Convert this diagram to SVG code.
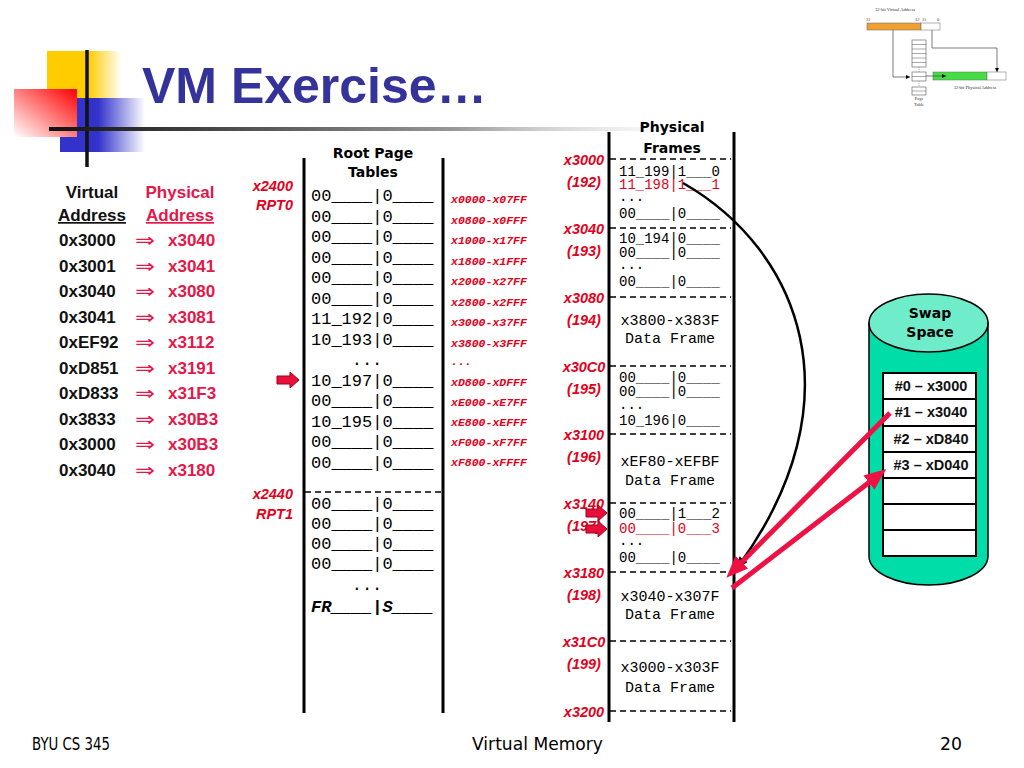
<svg xmlns="http://www.w3.org/2000/svg" width="1024" height="768" viewBox="0 0 1024 768">
<style>
.m{font-family:"Liberation Mono","Courier New",monospace}
.e{font-size:17px;fill:#000}
.f{font-size:14px;fill:#000}
.d{font-size:15px;fill:#000}
.lab{font-family:"Liberation Sans",Arial,sans-serif;font-weight:bold;font-style:italic;font-size:14.5px;fill:#E3001B}
.rng{font-family:"Liberation Mono","Courier New",monospace;font-weight:bold;font-style:italic;font-size:11.5px;fill:#E3001B}
.hd{font-family:"DejaVu Sans",sans-serif;font-weight:bold;font-size:14px;fill:#000}
.va{font-family:"Liberation Sans",Arial,sans-serif;font-weight:bold;font-size:17px;fill:#111}
.pa{font-family:"Liberation Sans",Arial,sans-serif;font-weight:bold;font-size:17px;fill:#E4174A}
.ar{font-family:"DejaVu Sans",sans-serif;font-size:20px;fill:#E4174A}
.sw{font-family:"Liberation Sans",Arial,sans-serif;font-weight:bold;font-size:14.5px;fill:#111}
.ft{font-family:"DejaVu Sans","Liberation Sans",sans-serif;font-size:18px;fill:#000}
.vl{stroke:#000;stroke-width:3;fill:none}
.dash{stroke:#000;stroke-width:1.5;stroke-dasharray:6 4;fill:none}
.blk{fill:#E8103A;stroke:#9A0018;stroke-width:1}
.tiny{font-family:"Liberation Serif",serif;font-size:4.5px;fill:#333}
</style>
<defs>
<linearGradient id="gy" x1="0" y1="0" x2="1" y2="0"><stop offset="0" stop-color="#FFCC00"/><stop offset="0.55" stop-color="#FFCC00"/><stop offset="1" stop-color="#FFCC00" stop-opacity="0"/></linearGradient>
<linearGradient id="gb" x1="0" y1="0" x2="1" y2="0"><stop offset="0" stop-color="#3333CC"/><stop offset="0.45" stop-color="#3333CC"/><stop offset="1" stop-color="#3333CC" stop-opacity="0"/></linearGradient>
<linearGradient id="gr" x1="1" y1="0" x2="0" y2="1"><stop offset="0" stop-color="#FF0000"/><stop offset="1" stop-color="#FFFFFF"/></linearGradient>
<linearGradient id="gl" x1="0" y1="0" x2="1" y2="0"><stop offset="0" stop-color="#111"/><stop offset="0.6" stop-color="#999"/><stop offset="1" stop-color="#fff" stop-opacity="0"/></linearGradient>
<marker id="ah" viewBox="0 0 12 10" refX="11" refY="5" markerWidth="12" markerHeight="10" markerUnits="userSpaceOnUse" orient="auto"><path d="M0,0 L12,5 L0,10 Z" fill="#000"/></marker>
<marker id="rh" viewBox="0 0 22 18" refX="14" refY="9" markerWidth="22" markerHeight="18" markerUnits="userSpaceOnUse" orient="auto"><path d="M0,0 L22,9 L0,18 Z" fill="#EE1144"/></marker>
<marker id="th" viewBox="0 0 4 4" refX="4" refY="2" markerWidth="4" markerHeight="4" markerUnits="userSpaceOnUse" orient="auto"><path d="M0,0 L4,2 L0,4 Z" fill="#000"/></marker>
</defs>
<rect width="1024" height="768" fill="#fff"/>

<g id="logo">
<rect x="47" y="51" width="75" height="47" fill="url(#gy)"/>
<rect x="60" y="98" width="85" height="54" fill="url(#gb)"/>
<rect x="14" y="89" width="63" height="48" fill="url(#gr)"/>
<line x1="87" y1="50" x2="87" y2="167" stroke="#111" stroke-width="3.5"/>
<rect x="49" y="127" width="680" height="4" fill="url(#gl)"/>
</g>
<text id="title" x="142" y="103" font-family="Liberation Sans,Arial,sans-serif" font-weight="bold" font-size="50" fill="#333399">VM Exercise…</text>

<g id="mini">
<text class="tiny" x="895" y="11" text-anchor="middle">32-bit Virtual Address</text>
<text class="tiny" x="866" y="21">31</text><text class="tiny" x="915" y="21">12</text><text class="tiny" x="922" y="21" fill="#33c">11</text><text class="tiny" x="937" y="21">0</text>
<rect x="867" y="23" width="54" height="7" fill="#F0A030" stroke="#666" stroke-width="0.5"/>
<rect x="921" y="23" width="19" height="7" fill="#fff" stroke="#666" stroke-width="0.5"/>
<polyline points="893,30 893,77 910,77" fill="none" stroke="#444" stroke-width="0.7" marker-end="url(#th)"/>
<polyline points="932,30 932,48 997,48 997,72" fill="none" stroke="#444" stroke-width="0.7" marker-end="url(#th)"/>
<g fill="#fff" stroke="#555" stroke-width="0.6">
<rect x="912" y="40" width="14" height="27"/>
<rect x="912" y="72" width="14" height="9"/>
<rect x="912" y="87" width="14" height="8"/>
</g>
<path d="M912,44.5H926M912,49H926M912,53.5H926M912,58H926M912,62.5H926M912,76.5H926M912,91H926" stroke="#555" stroke-width="0.5"/>
<path d="M919,67V72M919,81V87" stroke="#777" stroke-width="0.6" stroke-dasharray="1 1"/>
<rect x="933" y="72" width="54" height="8" fill="#44DD44" stroke="#666" stroke-width="0.5"/>
<rect x="987" y="72" width="19" height="8" fill="#fff" stroke="#666" stroke-width="0.5"/>
<line x1="926" y1="76" x2="946" y2="76" stroke="#444" stroke-width="0.7" marker-end="url(#th)"/>
<text class="tiny" x="975" y="89" text-anchor="middle">32-bit Physical Address</text>
<text class="tiny" x="919" y="100" text-anchor="middle">Page</text>
<text class="tiny" x="919" y="106" text-anchor="middle">Table</text>
</g>

<g id="addr-table">
<text class="va" x="92" y="198" text-anchor="middle">Virtual</text>
<text class="va" x="92" y="221" text-anchor="middle" text-decoration="underline">Address</text>
<text class="pa" x="180" y="198" text-anchor="middle">Physical</text>
<text class="pa" x="180" y="221" text-anchor="middle" text-decoration="underline">Address</text>
<g class="va">
<text x="59" y="246">0x3000</text><text x="59" y="271.5">0x3001</text><text x="59" y="297">0x3040</text><text x="59" y="322.5">0x3041</text><text x="59" y="348">0xEF92</text><text x="59" y="373.5">0xD851</text><text x="59" y="399">0xD833</text><text x="59" y="424.5">0x3833</text><text x="59" y="450">0x3000</text><text x="59" y="475.5">0x3040</text>
</g>
<g class="ar">
<text x="135" y="247" textLength="20" lengthAdjust="spacingAndGlyphs">⇒</text><text x="135" y="272.5" textLength="20" lengthAdjust="spacingAndGlyphs">⇒</text><text x="135" y="298" textLength="20" lengthAdjust="spacingAndGlyphs">⇒</text><text x="135" y="323.5" textLength="20" lengthAdjust="spacingAndGlyphs">⇒</text><text x="135" y="349" textLength="20" lengthAdjust="spacingAndGlyphs">⇒</text><text x="135" y="374.5" textLength="20" lengthAdjust="spacingAndGlyphs">⇒</text><text x="135" y="400" textLength="20" lengthAdjust="spacingAndGlyphs">⇒</text><text x="135" y="425.5" textLength="20" lengthAdjust="spacingAndGlyphs">⇒</text><text x="135" y="451" textLength="20" lengthAdjust="spacingAndGlyphs">⇒</text><text x="135" y="476.5" textLength="20" lengthAdjust="spacingAndGlyphs">⇒</text>
</g>
<g class="pa">
<text x="168" y="246">x3040</text><text x="168" y="271.5">x3041</text><text x="168" y="297">x3080</text><text x="168" y="322.5">x3081</text><text x="168" y="348">x3112</text><text x="168" y="373.5">x3191</text><text x="168" y="399">x31F3</text><text x="168" y="424.5">x30B3</text><text x="168" y="450">x30B3</text><text x="168" y="475.5">x3180</text>
</g>
</g>

<g id="root-tables">
<text class="hd" x="373" y="158" text-anchor="middle">Root Page</text>
<text class="hd" x="373" y="177" text-anchor="middle">Tables</text>
<line class="vl" x1="304" y1="158" x2="304" y2="713"/>
<line class="vl" x1="443" y1="158" x2="443" y2="713"/>
<text class="lab" x="293" y="191" text-anchor="end">x2400</text>
<text class="lab" x="293" y="210" text-anchor="end">RPT0</text>
<g class="m e">
<text x="311" y="201">00____|0____</text>
<text x="311" y="221.5">00____|0____</text>
<text x="311" y="242">00____|0____</text>
<text x="311" y="262.5">00____|0____</text>
<text x="311" y="283">00____|0____</text>
<text x="311" y="303.5">00____|0____</text>
<text x="311" y="324">11_192|0____</text>
<text x="311" y="344.5">10_193|0____</text>
<text x="367" y="365" text-anchor="middle">...</text>
<text x="311" y="385.5">10_197|0____</text>
<text x="311" y="406">00____|0____</text>
<text x="311" y="426.5">10_195|0____</text>
<text x="311" y="447">00____|0____</text>
<text x="311" y="467.5">00____|0____</text>
<text x="311" y="509">00____|0____</text>
<text x="311" y="529">00____|0____</text>
<text x="311" y="549">00____|0____</text>
<text x="311" y="569">00____|0____</text>
<text x="367" y="590" text-anchor="middle">...</text>
</g>
<text class="m e" x="311" y="612" font-weight="bold" font-style="italic" fill="#E3001B">FR____|S____</text>
<line class="dash" x1="305" y1="492" x2="441" y2="492"/>
<text class="lab" x="293" y="499" text-anchor="end">x2440</text>
<text class="lab" x="293" y="519" text-anchor="end">RPT1</text>
<g class="rng">
<text x="451" y="203">x0000-x07FF</text>
<text x="451" y="223.5">x0800-x0FFF</text>
<text x="451" y="244">x1000-x17FF</text>
<text x="451" y="264.5">x1800-x1FFF</text>
<text x="451" y="285">x2000-x27FF</text>
<text x="451" y="305.5">x2800-x2FFF</text>
<text x="451" y="326">x3000-x37FF</text>
<text x="451" y="346.5">x3800-x3FFF</text>
<text x="451" y="365">...</text>
<text x="451" y="386">xD800-xDFFF</text>
<text x="451" y="406">xE000-xE7FF</text>
<text x="451" y="426">xE800-xEFFF</text>
<text x="451" y="445.5">xF000-xF7FF</text>
<text x="451" y="465.5">xF800-xFFFF</text>
</g>
<polygon class="blk" points="277,376 290,376 290,372 299,380 290,388 290,384 277,384"/>
</g>

<g id="frames">
<text class="hd" x="672" y="132" text-anchor="middle">Physical</text>
<text class="hd" x="672" y="153" text-anchor="middle">Frames</text>
<line class="vl" x1="609" y1="132" x2="609" y2="722"/>
<line class="vl" x1="734" y1="132" x2="734" y2="722"/>
<g>
<line class="dash" x1="610" y1="159" x2="731" y2="159"/>
<line class="dash" x1="610" y1="228" x2="731" y2="228"/>
<line class="dash" x1="610" y1="297" x2="731" y2="297"/>
<line class="dash" x1="610" y1="366" x2="731" y2="366"/>
<line class="dash" x1="610" y1="434" x2="731" y2="434"/>
<line class="dash" x1="610" y1="503" x2="731" y2="503"/>
<line class="dash" x1="610" y1="572" x2="731" y2="572"/>
<line class="dash" x1="610" y1="641" x2="731" y2="641"/>
<line class="dash" x1="610" y1="711" x2="731" y2="711"/>
</g>
<g class="lab" text-anchor="middle">
<text x="584" y="165">x3000</text><text x="584" y="187">(192)</text>
<text x="584" y="234">x3040</text><text x="584" y="256">(193)</text>
<text x="584" y="303">x3080</text><text x="584" y="325">(194)</text>
<text x="584" y="372">x30C0</text><text x="584" y="394">(195)</text>
<text x="584" y="440">x3100</text><text x="584" y="462">(196)</text>
<text x="584" y="509">x3140</text><text x="584" y="531">(197)</text>
<text x="584" y="578">x3180</text><text x="584" y="600">(198)</text>
<text x="584" y="647">x31C0</text><text x="584" y="669">(199)</text>
<text x="584" y="717">x3200</text>
</g>
<g class="m f">
<text x="619" y="175.5">11_199|1___0</text>
<text x="619" y="188.5" fill="#E3001B">11_198|1___1</text>
<text x="619" y="201">...</text>
<text x="619" y="217.5">00____|0____</text>
<text x="619" y="242.5">10_194|0____</text>
<text x="619" y="256.5">00____|0____</text>
<text x="619" y="269">...</text>
<text x="619" y="285.5">00____|0____</text>
<text x="619" y="381.5">00____|0____</text>
<text x="619" y="395.5">00____|0____</text>
<text x="619" y="409">...</text>
<text x="619" y="424.5">10_196|0____</text>
<text x="619" y="517.5">00____|1___2</text>
<text x="619" y="532.5" fill="#E3001B">00____|0___3</text>
<text x="619" y="545">...</text>
<text x="619" y="561.5">00____|0____</text>
</g>
<g class="m d" text-anchor="middle">
<text x="670" y="325">x3800-x383F</text><text x="670" y="343">Data Frame</text>
<text x="670" y="466">xEF80-xEFBF</text><text x="670" y="485">Data Frame</text>
<text x="670" y="601">x3040-x307F</text><text x="670" y="619">Data Frame</text>
<text x="670" y="672">x3000-x303F</text><text x="670" y="692">Data Frame</text>
</g>
<polygon class="blk" points="586,509 598,509 598,505 607,513 598,521 598,517 586,517"/>
<polygon class="blk" points="586,525 598,525 598,521 607,529 598,537 598,533 586,533"/>
</g>

<g id="swap">
<path d="M869,323 L869,556 A59.5,29 0 0 0 988,556 L988,323 Z" fill="#00DDA8" stroke="#000" stroke-width="1.5"/>
<ellipse cx="928.5" cy="323" rx="59.5" ry="29" fill="#6FEDCB" stroke="#000" stroke-width="1.5"/>
<text class="hd" x="930" y="318" text-anchor="middle">Swap</text>
<text class="hd" x="930" y="337" text-anchor="middle">Space</text>
<rect x="883" y="373" width="93" height="183" fill="#fff" stroke="#000" stroke-width="2"/>
<path d="M883,399H976M883,426H976M883,452H976M883,478H976M883,504H976M883,530H976" stroke="#000" stroke-width="2"/>
<g class="sw" text-anchor="middle">
<text x="931" y="391">#0 – x3000</text>
<text x="931" y="417">#1 – x3040</text>
<text x="931" y="444">#2 – xD840</text>
<text x="931" y="470">#3 – xD040</text>
</g>
</g>

<g id="connectors">
<path d="M683,183 C800,250 860,400 737,568" fill="none" stroke="#000" stroke-width="2.5" marker-end="url(#ah)"/>
<line x1="890" y1="413" x2="732" y2="572" stroke="#EE1144" stroke-width="5" marker-end="url(#rh)"/>
<line x1="732" y1="588" x2="880" y2="474" stroke="#EE1144" stroke-width="5" marker-end="url(#rh)"/>
</g>

<g id="footer">
<text class="ft" x="32" y="750" textLength="78" lengthAdjust="spacingAndGlyphs">BYU CS 345</text>
<text class="ft" x="472" y="750" textLength="131" lengthAdjust="spacingAndGlyphs">Virtual Memory</text>
<text class="ft" x="940" y="750" textLength="22" lengthAdjust="spacingAndGlyphs">20</text>
</g>
</svg>
